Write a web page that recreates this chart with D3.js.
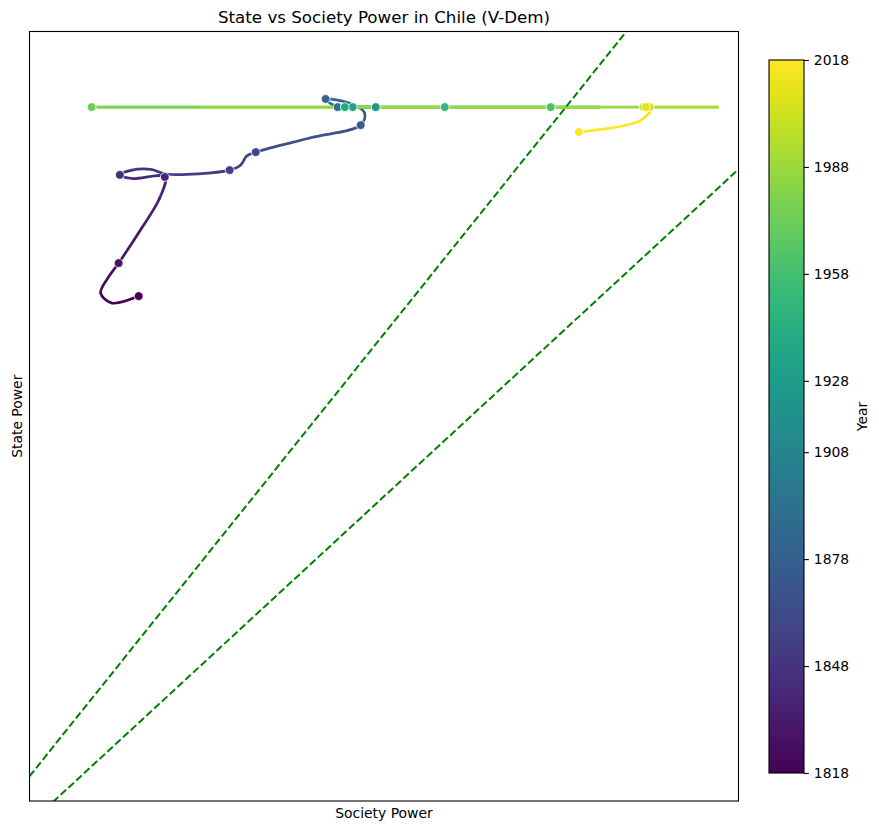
<!DOCTYPE html>
<html>
<head>
<meta charset="utf-8">
<script src="https://cdn.jsdelivr.net/npm/d3@7"></script>
<style>
  body { margin: 0; background: #fff; }
  text { font-family: "DejaVu Sans", sans-serif; fill: #000; }
</style>
</head>
<body>
<div class="chart"></div>
<script>
// trajectory (year, society power, state power)
const years   = [1818, 1820, 1822, 1825, 1828, 1832, 1836, 1839, 1843, 1845, 1847, 1849, 1851,
                 1855, 1858, 1860, 1862, 1868, 1874, 1878, 1881, 1885, 1890, 1905, 1925,
                 1935, 1940, 1950, 1960, 1972, 1974, 1985, 1990, 1995, 2000, 2005, 2010,
                 2013, 2015, 2018];
const society = [0.849, 0.759, 0.722, 0.746, 0.782, 0.859, 0.919, 0.936, 0.826, 0.786, 0.826, 0.892, 0.939,
                 1.152, 1.189, 1.209, 1.239, 1.419, 1.589, 1.602, 1.559, 1.472, 1.512, 1.586, 1.639,
                 1.562, 1.536, 1.869, 2.222, 2.386, 0.692, 1.052, 2.779, 2.546, 2.532, 2.552, 2.539,
                 2.559, 2.519, 2.316];
const state   = [2.206, 2.183, 2.216, 2.266, 2.316, 2.433, 2.533, 2.603, 2.598, 2.610, 2.626, 2.628, 2.613,
                 2.626, 2.643, 2.673, 2.686, 2.733, 2.776, 2.816, 2.846, 2.863, 2.836, 2.836, 2.836,
                 2.836, 2.836, 2.836, 2.836, 2.836, 2.836, 2.836, 2.836, 2.836, 2.836, 2.836, 2.836,
                 2.833, 2.790, 2.753];
const markerYears = [1818, 1828, 1839, 1845, 1855, 1862, 1874, 1885, 1890, 1925, 1935, 1940,
                     1950, 1960, 1974, 1995, 2000, 2005, 2010, 2018];
const corridorSlopes = [1.248, 0.923];
const yearTicks = [1818, 1848, 1878, 1908, 1928, 1958, 1988, 2018];

const width = 879, height = 831;
const plot = { left: 29.5, right: 738.5, top: 31.5, bottom: 801 };
const cbar = { x: 769, y: 60, w: 35, h: 713 };

const svg = d3.select(".chart").append("svg")
  .attr("width", width)
  .attr("height", height);

const x = d3.scaleLinear().domain([0.485, 2.848]).range([plot.left, plot.right]);
const y = d3.scaleLinear().domain([0.523, 3.088]).range([plot.bottom, plot.top]);
const color = d3.scaleSequential(d3.interpolateViridis).domain([1818, 2018]);

svg.append("clipPath").attr("id", "clip")
  .append("rect")
  .attr("x", plot.left).attr("y", plot.top)
  .attr("width", plot.right - plot.left).attr("height", plot.bottom - plot.top);

const g = svg.append("g").attr("clip-path", "url(#clip)");

// smooth path through all points, then cut it into one piece per segment so each gets its year colour
const pts = years.map((yr, i) => [x(society[i]), y(state[i])]);
const full = d3.line().curve(d3.curveCatmullRom.alpha(0.5))(pts);
const pieces = full.split("C").slice(1);
pieces.forEach((c, i) => {
  const mid = (years[i] + years[i + 1]) / 2;
  g.append("path")
    .attr("d", `M${pts[i][0]},${pts[i][1]}C${c}`)
    .attr("fill", "none")
    .attr("stroke", color(mid))
    .attr("stroke-width", 2.7)
    .attr("stroke-linecap", "round");
});

// markers
g.selectAll("circle")
  .data(markerYears)
  .enter()
  .append("circle")
  .attr("cx", d => x(society[years.indexOf(d)]))
  .attr("cy", d => y(state[years.indexOf(d)]))
  .attr("r", 4.4)
  .attr("fill", d => color(d))
  .attr("stroke", "#fff")
  .attr("stroke-width", 0.8);

// corridor lines
const [x0, x1] = x.domain();
corridorSlopes.forEach(k => {
  g.append("line")
    .attr("x1", x(x0)).attr("y1", y(k * x0))
    .attr("x2", x(x1)).attr("y2", y(k * x1))
    .attr("stroke", "#008000")
    .attr("stroke-width", 2)
    .attr("stroke-dasharray", "7.4,3.2");
});

// frame
svg.append("rect")
  .attr("x", plot.left).attr("y", plot.top)
  .attr("width", plot.right - plot.left).attr("height", plot.bottom - plot.top)
  .attr("fill", "none")
  .attr("stroke", "#000")
  .attr("stroke-width", 1.1);

// titles
svg.append("text")
  .attr("x", (plot.left + plot.right) / 2).attr("y", 23)
  .attr("text-anchor", "middle")
  .attr("font-size", 16.7)
  .text("State vs Society Power in Chile (V-Dem)");

svg.append("text")
  .attr("x", (plot.left + plot.right) / 2).attr("y", 818)
  .attr("text-anchor", "middle")
  .attr("font-size", 13.9)
  .text("Society Power");

svg.append("text")
  .attr("transform", `translate(22,${(plot.top + plot.bottom) / 2}) rotate(-90)`)
  .attr("text-anchor", "middle")
  .attr("font-size", 13.9)
  .text("State Power");

// colorbar
const grad = svg.append("defs").append("linearGradient")
  .attr("id", "viridis")
  .attr("x1", 0).attr("y1", 1).attr("x2", 0).attr("y2", 0);
d3.range(0, 1.0001, 0.05).forEach(t => {
  grad.append("stop").attr("offset", t).attr("stop-color", d3.interpolateViridis(t));
});

svg.append("rect")
  .attr("x", cbar.x).attr("y", cbar.y)
  .attr("width", cbar.w).attr("height", cbar.h)
  .attr("fill", "url(#viridis)")
  .attr("stroke", "#000")
  .attr("stroke-width", 1.1);

const cy = d3.scaleLinear().domain([1818, 2018]).range([cbar.y + cbar.h, cbar.y]);
svg.append("g")
  .attr("transform", `translate(${cbar.x + cbar.w},0)`)
  .call(d3.axisRight(cy).tickValues(yearTicks).tickFormat(d3.format("d")).tickSize(4.9).tickPadding(4.9))
  .call(a => a.select(".domain").remove())
  .call(a => a.selectAll("text").attr("font-size", 13.9).attr("font-family", "DejaVu Sans"))
  .call(a => a.selectAll("line").attr("stroke-width", 1.1));

svg.append("text")
  .attr("transform", `translate(867,${cbar.y + cbar.h / 2}) rotate(-90)`)
  .attr("text-anchor", "middle")
  .attr("font-size", 13.9)
  .text("Year");
</script>
</body>
</html>
